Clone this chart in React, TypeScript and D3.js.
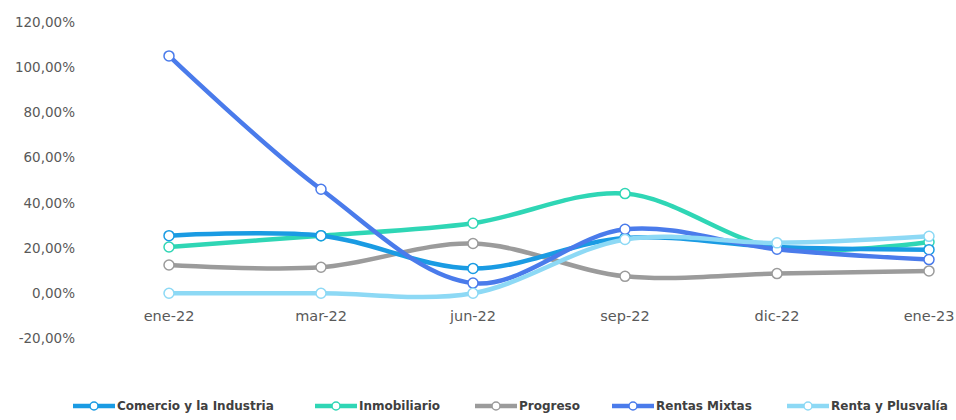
import React from "react";
import * as d3 from "d3";

const categories = ["ene-22", "mar-22", "jun-22", "sep-22", "dic-22", "ene-23"];
const seriesNames = ["Comercio y la Industria", "Inmobiliario", "Progreso", "Rentas Mixtas", "Renta y Plusvalía"];
const comercio = [25.5, 25.5, 11, 24.5, 20.5, 19.3];
const inmobiliario = [20.5, 25.5, 31, 44.1, 20, 22.7];
const progreso = [12.5, 11.5, 22, 7.5, 8.7, 9.9];
const rentasMixtas = [105, 46, 4.5, 28.3, 19.5, 14.9];
const rentaPlusvalia = [0, 0, 0, 23.8, 22.3, 25.2];
const yTicks = [-20, 0, 20, 40, 60, 80, 100, 120];
const colors = ["#1a9be3", "#2fd6b5", "#9b9b9b", "#4a7beb", "#8dd9f5"];

const seriesValues = [comercio, inmobiliario, progreso, rentasMixtas, rentaPlusvalia];
const legendX = [73, 315, 475, 612, 787];

export default function App() {
  const W = 956, H = 420;
  const x = d3.scalePoint<string>().domain(categories).range([169, 929]);
  const y = d3.scaleLinear().domain([-20, 120]).range([338.5, 22]);
  const line = d3
    .line<number>()
    .x((_, i) => x(categories[i]) as number)
    .y((d) => y(d))
    .curve(d3.curveCatmullRom.alpha(0.5));
  const fmt = (v: number) => v.toFixed(2).replace(".", ",") + "%";
  const font = "'DejaVu Sans', sans-serif";
  const order = [2, 1, 0, 3, 4];
  return (
    <svg width={W} height={H} style={{ position: "absolute", left: 0, top: 0 }} fontFamily={font}>
      <rect width={W} height={H} fill="#fff" />
      {yTicks.map((t) => (
        <text key={t} x={75} y={y(t)} dy="0.35em" textAnchor="end" fontSize={13.5} fill="#595959">
          {fmt(t)}
        </text>
      ))}
      {categories.map((c) => (
        <text key={c} x={x(c)} y={316} dy="0.35em" textAnchor="middle" fontSize={14.5} fill="#595959">
          {c}
        </text>
      ))}
      {order.map((si) => (
        <g key={si}>
          <path d={line(seriesValues[si]) || ""} fill="none" stroke={colors[si]} strokeWidth={4.5} strokeLinecap="round" />
          {seriesValues[si].map((v, i) => (
            <circle key={i} cx={x(categories[i])} cy={y(v)} r={5} fill="#fff" stroke={colors[si]} strokeWidth={1.5} />
          ))}
        </g>
      ))}
      {seriesNames.map((n, si) => (
        <g key={n} transform={`translate(${legendX[si]},406)`}>
          <line x1={0} x2={42} y1={0} y2={0} stroke={colors[si]} strokeWidth={4.5} />
          <circle cx={21} cy={0} r={4} fill="#fff" stroke={colors[si]} strokeWidth={1.5} />
          <text x={44} y={0} dy="0.35em" fontSize={12} fontWeight="bold" fill="#404040">
            {n}
          </text>
        </g>
      ))}
    </svg>
  );
}
